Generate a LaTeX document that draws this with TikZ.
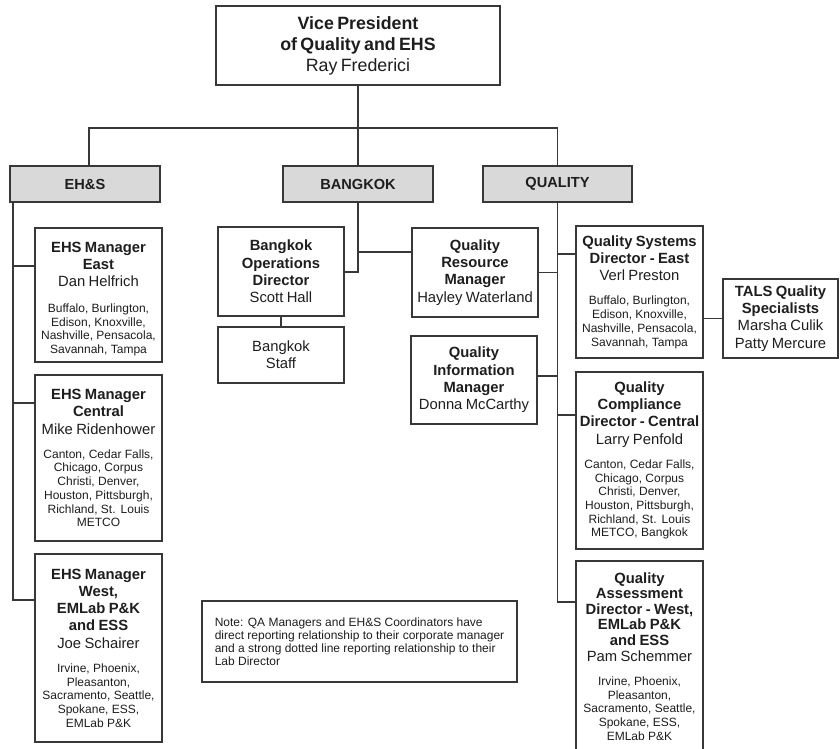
\documentclass[tikz,border=0pt]{standalone}
\usepackage{fontspec}
\setmainfont{Liberation Sans}
\setlength{\parindent}{0pt}
\definecolor{edge}{HTML}{383838}
\definecolor{ink}{HTML}{1E1E1E}
\definecolor{band}{HTML}{D9D9D9}
% type sizes
\newcommand\vpfont{\fontsize{17.8}{21}\selectfont}
\newcommand\hdfont{\fontsize{14.6}{17}\selectfont\bfseries}
\newcommand\ttlfont{\fontsize{14.8}{17.3}\selectfont\bfseries}
\newcommand\nmfont{\fontsize{14.8}{17.3}\selectfont}
\newcommand\tightttl{\fontsize{14.8}{15.5}\selectfont\bfseries}
\newcommand\tightnm{\fontsize{14.8}{16}\selectfont}
\newcommand\ctfont{\fontsize{12}{13.7}\selectfont}
\newcommand\notefont{\fontsize{12}{13}\selectfont}
\newcommand\citygap{\vspace{10.5pt}}
\tikzset{
  box/.style={draw=edge, line width=1.3pt, fill=white, text=ink, inner sep=0pt,
              align=center, anchor=center},
  hdr/.style={box, fill=band, font=\hdfont},
  conn/.style={draw=edge, line width=1.1pt},
}
\begin{document}
\begin{tikzpicture}[x=1pt,y=-1pt]
\useasboundingbox (0,0) rectangle (840,748);

% top of the chart
\node[box, minimum width=284pt, minimum height=79pt, text width=280pt] (vp) at (358,45.5)
  {{\vpfont\bfseries Vice President\\of Quality and EHS\par}{\vpfont Ray Frederici\par}};

% division headers
\node[hdr, minimum width=150pt, minimum height=36pt] (ehs) at (85,184) {EH\&S};
\node[hdr, minimum width=150pt, minimum height=36pt] (bangkok) at (358,184) {BANGKOK};
\node[hdr, minimum width=149pt, minimum height=36pt] (quality) at (557.5,184) {QUALITY};

% EH&S managers
\node[box, minimum width=127pt, minimum height=134pt, text width=125pt] (ehsE) at (98.5,295)
  {{\ttlfont EHS Manager\\East\par}{\nmfont Dan Helfrich\par}\vspace{12pt}
   {\ctfont Buffalo, Burlington,\\Edison, Knoxville,\\Nashville, Pensacola,\\Savannah, Tampa\par}\vspace{-8pt}};
\node[box, minimum width=127pt, minimum height=166pt, text width=125pt] (ehsC) at (98.5,458)
  {{\ttlfont EHS Manager\\Central\par}{\nmfont Mike Ridenhower\par}\citygap
   {\ctfont Canton, Cedar Falls,\\Chicago, Corpus\\Christi, Denver,\\Houston, Pittsburgh,\\Richland, St. Louis\\METCO\par}};
\node[box, minimum width=127pt, minimum height=188pt, text width=125pt] (ehsW) at (98.5,648)
  {{\ttlfont EHS Manager\\West,\\EMLab P\&K\\and ESS\par}{\nmfont Joe Schairer\par}\citygap
   {\ctfont Irvine, Phoenix,\\Pleasanton,\\Sacramento, Seattle,\\Spokane, ESS,\\EMLab P\&K\par}};

% Bangkok
\node[box, minimum width=126pt, minimum height=89pt, text width=124pt] (bod) at (281,271.5)
  {{\ttlfont Bangkok\\Operations\\Director\par}{\nmfont Scott Hall\par}};
\node[box, minimum width=126pt, minimum height=56pt, text width=124pt] (staff) at (281,355)
  {{\nmfont Bangkok\\Staff\par}};

% Quality managers
\node[box, minimum width=126pt, minimum height=89pt, text width=124pt] (qrm) at (475,272.5)
  {{\ttlfont Quality\\Resource\\Manager\par}{\nmfont Hayley Waterland\par}};
\node[box, minimum width=126pt, minimum height=88pt, text width=124pt] (qim) at (474,380)
  {{\ttlfont Quality\\Information\\Manager\par}{\nmfont Donna McCarthy\par}};

% Quality directors
\node[box, minimum width=127pt, minimum height=132pt, text width=125pt] (qsd) at (639.5,292)
  {{\ttlfont Quality Systems\\Director - East\par}{\nmfont Verl Preston\par}\citygap
   {\ctfont Buffalo, Burlington,\\Edison, Knoxville,\\Nashville, Pensacola,\\Savannah, Tampa\par}};
\node[box, minimum width=115pt, minimum height=79pt, text width=113pt] (tals) at (780.5,318.5)
  {{\ttlfont TALS Quality\\Specialists\par}{\nmfont Marsha Culik\\Patty Mercure\par}};
\node[box, minimum width=127pt, minimum height=177pt, text width=125pt] (qcd) at (639.5,460.5)
  {{\ttlfont Quality\\Compliance\\Director - Central\par}{\nmfont Larry Penfold\par}\citygap
   {\ctfont Canton, Cedar Falls,\\Chicago, Corpus\\Christi, Denver,\\Houston, Pittsburgh,\\Richland, St. Louis\\METCO, Bangkok\par}};
\node[box, minimum width=127pt, minimum height=199pt, text width=125pt] (qad) at (639.5,660.5)
  {{\tightttl Quality\\Assessment\\Director - West,\\EMLab P\&K\\and ESS\par}{\tightnm Pam Schemmer\par}\citygap
   {\ctfont Irvine, Phoenix,\\Pleasanton,\\Sacramento, Seattle,\\Spokane, ESS,\\EMLab P\&K\par}\vspace{8pt}};

% note
\node[box, minimum width=315pt, minimum height=81pt, align=left, font=\notefont] (note) at (359.5,641.5)
  {Note: QA Managers and EH\&S Coordinators have\\
   direct reporting relationship to their corporate manager\\
   and a strong dotted line reporting relationship to their\\
   Lab Director};

% junction points
\coordinate (bl) at (89,128);
\coordinate (eE) at (13,266);
\coordinate (eC) at (13,403);
\coordinate (eW) at (13,600);
\coordinate (kA) at (358,252);
\coordinate (kB) at (358,272);
\coordinate (qA) at (557.5,254);
\coordinate (qB) at (557.5,272.5);
\coordinate (qC) at (557.5,376);
\coordinate (qD) at (557.5,415);
\coordinate (qE) at (557.5,602);

% reporting lines
\draw[conn] (vp.south) -- (bangkok.north);
\draw[conn] (ehs.north -| bl) -- (bl) -- (quality.north |- bl) -- (quality.north);

\draw[conn] (ehs.south -| eW) -- (eW) -- (eW -| ehsW.west);
\draw[conn] (eE) -- (eE -| ehsE.west);
\draw[conn] (eC) -- (eC -| ehsC.west);

\draw[conn] (bangkok.south) -- (kB) -- (kB -| bod.east);
\draw[conn] (kA) -- (kA -| qrm.west);
\draw[conn] (bod) -- (staff);

\draw[conn] (quality.south) -- (qE) -- (qE -| qad.west);
\draw[conn] (qA) -- (qA -| qsd.west);
\draw[conn] (qB) -- (qB -| qrm.east);
\draw[conn] (qC) -- (qC -| qim.east);
\draw[conn] (qD) -- (qD -| qcd.west);
\draw[conn] (tals.west) -- (tals.west -| qsd.east);
\end{tikzpicture}
\end{document}
